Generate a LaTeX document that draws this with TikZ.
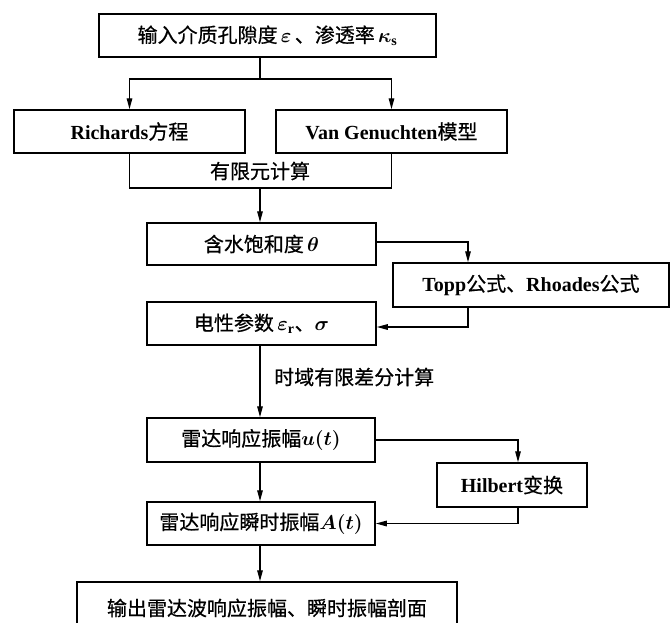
\documentclass[tikz,border=0pt]{standalone}
\usepackage{fix-cm}
\usepackage{amsmath}
\usepackage{fontspec}
\setmainfont{Liberation Serif}
\newfontfamily\cjk[FakeBold=0.6]{Noto Sans CJK SC}
\usetikzlibrary{arrows.meta}
\tikzset{
  box/.style={draw, line width=1.5pt, minimum height=43pt, inner sep=0pt,
    font=\fontsize{20}{24}\selectfont},
  arr/.style={line width=1.4pt, -{Triangle[length=11pt,width=5.5pt]}},
  conn/.style={line width=1.4pt},
  lbl/.style={inner sep=0pt, font=\fontsize{20}{24}\selectfont}
}
\begin{document}
\begin{tikzpicture}[x=1pt,y=-1pt]
\useasboundingbox (0,0) rectangle (671,622);
% nodes
\node[box, minimum width=337pt] (top) at (267.5,35.5)
  {{\cjk 输入介质孔隙度}\,{\boldmath$\varepsilon$}\,{\cjk 、渗透率}\,{\boldmath$\kappa_{\mathrm{s}}$}};
\node[box, minimum width=231pt] (rich) at (129.5,131.5) {\textbf{Richards}{\cjk 方程}};
\node[box, minimum width=231pt] (vg) at (391.5,131.5) {\textbf{Van Genuchten}{\cjk 模型}};
\node[lbl] (femlbl) at (260,171) {\cjk 有限元计算};
\node[box, minimum width=229pt, minimum height=42pt] (sat) at (261.5,244) {{\cjk 含水饱和度}\,{\boldmath$\theta$}};
\node[box, minimum width=276pt, minimum height=44pt] (topp) at (531,285) {\textbf{Topp}{\cjk 公式、}\textbf{Rhoades}{\cjk 公式}};
\node[box, minimum width=229pt] (elec) at (261.5,323.5) {{\cjk 电性参数}\,{\boldmath$\varepsilon_{\mathrm{r}}$}{\cjk 、}{\boldmath$\sigma$}};
\node[lbl, anchor=west] (fdtd) at (274,377) {\cjk 时域有限差分计算};
\node[box, minimum width=228pt, minimum height=44pt] (uu) at (261,440) {{\cjk 雷达响应振幅}{\boldmath$u(t)$}};
\node[box, minimum width=150pt, minimum height=44pt] (hil) at (512,485) {\textbf{Hilbert}{\cjk 变换}};
\node[box, minimum width=228pt] (aa) at (261,523.5) {{\cjk 雷达响应瞬时振幅}{\boldmath$A(t)$}};
\node[box, minimum width=380pt, minimum height=52pt] (out) at (267,608) {\cjk 输出雷达波响应振幅、瞬时振幅剖面};
% coordinates
\coordinate (split) at (260,79);
\coordinate (femB) at (260,188);
% connectors
\draw[conn] (top.south -| split) -- (split);
\draw[arr] (split) -| (rich.north);
\draw[arr] (split) -| (vg.north);
\draw[conn] (rich.south) |- (femB) -| (vg.south);
\draw[arr] (femB) -- (femB |- sat.north);
\draw[arr] ([yshift=2pt]sat.east) -| ([xshift=-63pt]topp.north);
\draw[arr] ([xshift=-63pt]topp.south) |- ([yshift=-3.5pt]elec.east);
\draw[arr] (elec.south -| femB) -- (uu.north -| femB);
\draw[arr] (uu.east) -| ([xshift=6pt]hil.north);
\draw[arr] ([xshift=6pt]hil.south) |- (aa.east);
\draw[arr] (uu.south -| femB) -- (aa.north -| femB);
\draw[arr] (aa.south -| femB) -- (out.north -| femB);
\end{tikzpicture}
\end{document}
